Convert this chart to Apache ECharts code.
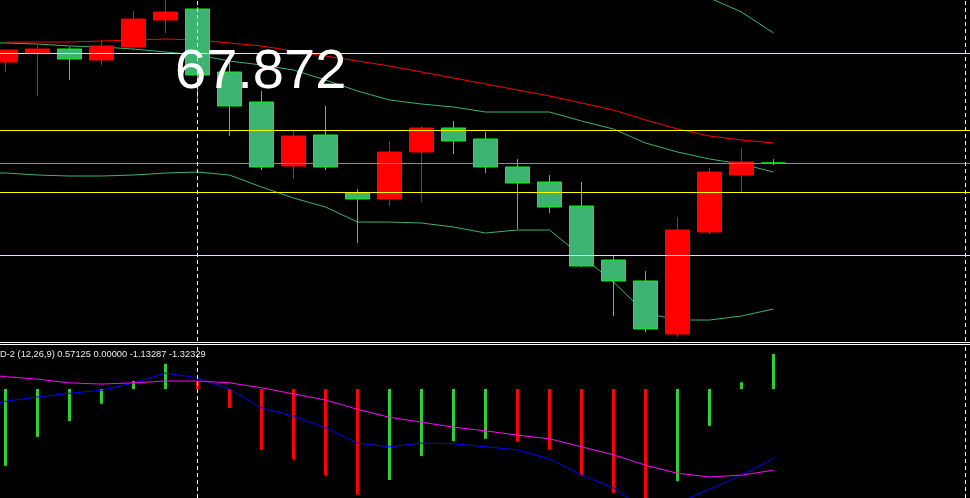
<!DOCTYPE html>
<html><head><meta charset="utf-8">
<script src="https://cdn.jsdelivr.net/npm/echarts@6/dist/echarts.min.js"></script>
<style>html,body{margin:0;padding:0;background:#000;}#c{width:970px;height:498px;}</style>
</head><body><div id="c"></div>
<script>
// bar labels (first one is just off the left edge)
const bars = ['b-1','b0','b1','b2','b3','b4','b5','b6','b7','b8','b9','b10','b11','b12','b13','b14','b15','b16','b17','b18','b19','b20','b21','b22','b23','b24','b25','b26','b27','b28','b29','b30'];
// OHLC for b0..b24
const openP  = [68.88,68.97,69.01,68.90,69.03,69.30,69.41,68.78,68.48,67.84,68.15,67.57,67.51,67.98,68.22,68.11,67.83,67.68,67.44,66.90,66.69,66.16,67.18,67.75,67.87];
const closeP = [69.00,69.01,68.91,69.04,69.31,69.38,68.75,68.44,67.83,68.14,67.83,67.51,67.98,68.22,68.09,67.83,67.67,67.43,66.84,66.69,66.21,67.20,67.78,67.88,67.87];
const lowP   = [68.78,68.54,68.70,68.85,68.99,69.17,68.50,68.14,67.80,67.71,67.80,67.07,67.44,67.48,67.96,67.77,67.21,67.37,66.83,66.34,66.18,66.13,67.16,67.58,67.85];
const highP  = [69.00,69.05,69.03,69.10,69.39,69.52,69.43,68.88,68.59,68.19,68.44,67.61,68.09,68.24,68.29,68.18,67.91,67.75,67.68,66.95,66.79,67.33,67.82,68.02,67.91];
// overlays for b-1..b24
const maRed   = [null,69.08,69.08,69.08,69.09,69.10,69.11,69.10,69.07,69.04,68.99,68.94,68.89,68.84,68.78,68.72,68.66,68.60,68.54,68.47,68.40,68.30,68.21,68.14,68.10,68.07];
const bandMid = [69.07,69.07,69.06,69.04,69.03,69.01,68.98,68.95,68.89,68.85,68.80,68.70,68.59,68.50,68.46,68.43,68.38,68.38,68.38,68.29,68.21,68.07,67.98,67.91,67.86,67.78];
const bandLow = [67.77,67.77,67.75,67.74,67.74,67.75,67.77,67.78,67.75,67.63,67.52,67.43,67.28,67.28,67.27,67.23,67.17,67.20,67.20,66.94,66.68,66.37,66.30,66.30,66.34,66.41];
const bandUp  = [null,null,null,null,null,null,null,null,null,null,null,null,null,null,null,null,null,null,null,null,null,69.77,69.66,69.52,69.38,69.17];
// horizontal levels
const yellowLevels = [68.97,68.20,67.58,66.95];
const bidLevel = 67.87;
const markerBars = ['b6','b30'];
const bigLabel = '67.872';
// MACD pane, b-1..b24
const macdHist = [null,-1.25,-0.78,-0.52,-0.24,0.13,0.41,0.13,-0.31,-0.99,-1.15,-1.41,-1.72,-1.48,-1.09,-0.85,-0.81,-0.86,-0.99,-1.41,-1.69,-1.95,-1.50,-0.60,0.11,0.57];
const macdBlue = [-0.31,-0.20,-0.13,-0.07,-0.02,0.10,0.26,0.18,0.00,-0.31,-0.44,-0.63,-0.88,-0.94,-0.88,-0.89,-0.94,-0.99,-1.14,-1.40,-1.61,-1.98,-1.85,-1.63,-1.40,-1.13];
const macdPink = [0.26,0.20,0.16,0.10,0.08,0.10,0.13,0.13,0.10,0.02,-0.08,-0.18,-0.33,-0.46,-0.54,-0.62,-0.68,-0.75,-0.81,-0.94,-1.07,-1.24,-1.37,-1.43,-1.40,-1.32];
const macdTitle = 'D-2 (12,26,9) 0.57125 0.00000 -1.13287 -1.32329';

const candleData = [ '-' ].concat(openP.map((o,i)=>[o, closeP[i], lowP[i], highP[i]]));
let prev = null;
const histData = macdHist.map(v => {
  if (v === null) return '-';
  const up = prev === null || v >= prev;
  prev = v;
  return {value: v, itemStyle: {color: up ? '#32CD32' : '#FF0000'}};
});

const chart = echarts.init(document.getElementById('c'), null, {renderer:'canvas'});
const noSym = ['none','none'];
chart.setOption({
  animation: false,
  backgroundColor: '#000000',
  grid: [
    {left: -42.5, width: 1024, top: 0, height: 341, outerBoundsMode: 'none', containLabel: false},
    {left: -42.5, width: 1024, top: 345, height: 153, outerBoundsMode: 'none', containLabel: false}
  ],
  xAxis: [
    {type:'category', data: bars, gridIndex:0, boundaryGap:true, show:false},
    {type:'category', data: bars, gridIndex:1, boundaryGap:true, show:false}
  ],
  yAxis: [
    {type:'value', gridIndex:0, min:66.09, max:69.50, show:false, splitLine:{show:false}},
    {type:'value', gridIndex:1, min:-1.7724, max:0.7154, show:false, splitLine:{show:false}}
  ],
  graphic: [
    {type:'line', z:50, shape:{x1:0,y1:342.5,x2:970,y2:342.5}, style:{stroke:'#FFFFFF', lineWidth:1}},
    {type:'line', z:50, shape:{x1:0,y1:344.5,x2:970,y2:344.5}, style:{stroke:'#FFFFFF', lineWidth:1}},
    {type:'text', z:100, x:175, y:73, style:{text: bigLabel, fill:'#FFFFFF', font:'56px "Liberation Sans", Arial, sans-serif', align:'left', verticalAlign:'middle'}},
    {type:'text', z:100, x:0, y:354, style:{text: macdTitle, fill:'#E8E8E8', font:'9.3px "Liberation Sans", Arial, sans-serif', align:'left', verticalAlign:'middle'}}
  ],
  series: [
    {name:'mid', type:'line', xAxisIndex:0, yAxisIndex:0, data: bandMid, symbol:'none', z:2,
      lineStyle:{color:'#3CB371', width:1},
      markLine:{silent:true, symbol:noSym, label:{show:false},
        data:[{yAxis: bidLevel, lineStyle:{color:'#8C8C8C', width:1, type:'solid'}}].concat(
          markerBars.map(b=>({xAxis:b, lineStyle:{color:'#FFFFFF', width:1, type:[4,3]}})))}},
    {name:'low', type:'line', xAxisIndex:0, yAxisIndex:0, data: bandLow, symbol:'none', z:2, lineStyle:{color:'#3CB371', width:1}},
    {name:'up', type:'line', xAxisIndex:0, yAxisIndex:0, data: bandUp, symbol:'none', z:2, lineStyle:{color:'#3CB371', width:1}},
    {name:'ma', type:'line', xAxisIndex:0, yAxisIndex:0, data: maRed, symbol:'none', z:2, lineStyle:{color:'#FF0000', width:1}},
    {name:'price', type:'candlestick', xAxisIndex:0, yAxisIndex:0, data: candleData, z:3, barWidth:25,
      itemStyle:{color:'#FF0000', color0:'#3CB371', borderColor:'#FF0000', borderColor0:'#00FF00', borderWidth:1}},
    {name:'levels', type:'line', xAxisIndex:0, yAxisIndex:0, data: [], symbol:'none', z:5,
      markLine:{silent:true, symbol:noSym, label:{show:false},
        data: yellowLevels.map(v=>({yAxis:v, lineStyle:{color:'#FFFF00', width:1, type:'solid'}}))}},
    {name:'hist', type:'bar', xAxisIndex:1, yAxisIndex:1, data: histData, barWidth:3, z:2},
    {name:'macd', type:'line', xAxisIndex:1, yAxisIndex:1, data: macdBlue, symbol:'none', z:3, lineStyle:{color:'#0000FF', width:1}},
    {name:'signal', type:'line', xAxisIndex:1, yAxisIndex:1, data: macdPink, symbol:'none', z:3, lineStyle:{color:'#FF00FF', width:1},
      markLine:{silent:true, symbol:noSym, label:{show:false},
        data: markerBars.map(b=>({xAxis:b, lineStyle:{color:'#FFFFFF', width:1, type:[4,3]}}))}}
  ]
});
</script></body></html>
